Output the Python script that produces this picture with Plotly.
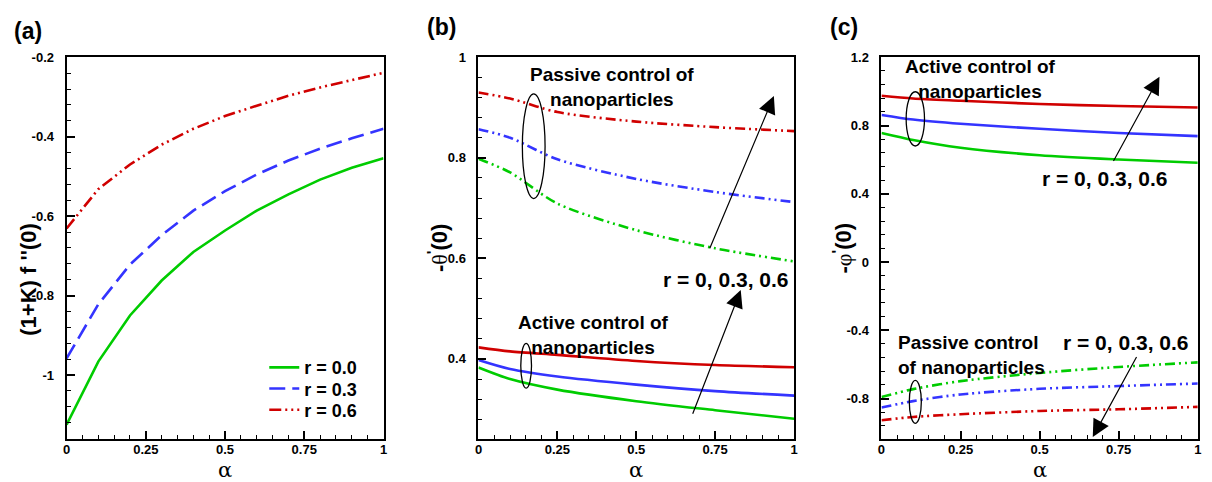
import plotly.graph_objects as go

# ---------------- data ----------------
alpha_a = [0.0, 0.1, 0.2, 0.3, 0.4, 0.5, 0.6, 0.7, 0.8, 0.9, 1.0]
a_r00 = [-1.125, -0.966, -0.85, -0.762, -0.69, -0.636, -0.586, -0.545, -0.508, -0.478, -0.454]
a_r03 = [-0.958, -0.822, -0.722, -0.648, -0.586, -0.537, -0.495, -0.46, -0.43, -0.404, -0.38]
a_r06 = [-0.631, -0.532, -0.47, -0.42, -0.38, -0.348, -0.322, -0.297, -0.276, -0.257, -0.239]

alpha_bc = [0.0, 0.1, 0.25, 0.5, 0.75, 1.0]
# panel (b): -theta'(0)
b_act_r00 = [0.383, 0.360, 0.339, 0.316, 0.298, 0.281]
b_act_r03 = [0.398, 0.380, 0.365, 0.349, 0.336, 0.327]
b_act_r06 = [0.423, 0.415, 0.408, 0.396, 0.388, 0.3835]
b_pas_r00 = [0.798, 0.771, 0.709, 0.656, 0.620, 0.594]
b_pas_r03 = [0.857, 0.840, 0.797, 0.758, 0.732, 0.712]
b_pas_r06 = [0.930, 0.918, 0.891, 0.872, 0.861, 0.853]
# panel (c): -phi'(0)
c_act_r00 = [0.756, 0.715, 0.670, 0.626, 0.601, 0.582]
c_act_r03 = [0.862, 0.835, 0.810, 0.781, 0.756, 0.738]
c_act_r06 = [0.974, 0.958, 0.945, 0.926, 0.914, 0.906]
c_pas_r00 = [-0.791, -0.745, -0.698, -0.650, -0.615, -0.588]
c_pas_r03 = [-0.853, -0.815, -0.776, -0.743, -0.727, -0.712]
c_pas_r06 = [-0.927, -0.908, -0.892, -0.873, -0.863, -0.849]

legend_labels = ["r = 0.0", "r = 0.3", "r = 0.6"]
x_tickvals = [0, 0.25, 0.5, 0.75, 1]
x_ticktext = ["0", "0.25", "0.5", "0.75", "1"]
a_tickvals = [-1, -0.8, -0.6, -0.4, -0.2]
a_ticktext = ["-1", "-0.8", "-0.6", "-0.4", "-0.2"]
b_tickvals = [0.4, 0.6, 0.8, 1]
b_ticktext = ["0.4", "0.6", "0.8", "1"]
c_tickvals = [-0.8, -0.4, 0, 0.4, 0.8, 1.2]
c_ticktext = ["-0.8", "-0.4", "0", "0.4", "0.8", "1.2"]

GREEN = "#00cc00"
BLUE = "#3434ff"
RED = "#d00000"
FONT = "Liberation Sans"
DDOT = "10px,4px,2px,4px,2px,4px"

fig = go.Figure()

def add(x, y, color, dash, xa, ya, name=None, legend=None, shape="spline"):
    fig.add_trace(go.Scatter(x=x, y=y, mode="lines", name=name, showlegend=legend is not None,
                             legend=legend if legend else "legend",
                             line=dict(color=color, width=2.6, dash=dash, shape=shape, smoothing=0.8),
                             xaxis=xa, yaxis=ya))

add(alpha_a, a_r00, GREEN, "solid", "x", "y", legend_labels[0], "legend", "linear")
add(alpha_a, a_r03, BLUE, "16px,7px", "x", "y", legend_labels[1], "legend2", "linear")
add(alpha_a, a_r06, RED, "12px,4px,2px,4px,2px,4px", "x", "y", legend_labels[2], "legend3", "linear")

add(alpha_bc, b_pas_r06, RED, DDOT, "x2", "y2")
add(alpha_bc, b_pas_r03, BLUE, DDOT, "x2", "y2")
add(alpha_bc, b_pas_r00, GREEN, DDOT, "x2", "y2")
add(alpha_bc, b_act_r06, RED, "solid", "x2", "y2")
add(alpha_bc, b_act_r03, BLUE, "solid", "x2", "y2")
add(alpha_bc, b_act_r00, GREEN, "solid", "x2", "y2")

add(alpha_bc, c_act_r06, RED, "solid", "x3", "y3")
add(alpha_bc, c_act_r03, BLUE, "solid", "x3", "y3")
add(alpha_bc, c_act_r00, GREEN, "solid", "x3", "y3")
add(alpha_bc, c_pas_r00, GREEN, DDOT, "x3", "y3")
add(alpha_bc, c_pas_r03, BLUE, DDOT, "x3", "y3")
add(alpha_bc, c_pas_r06, RED, DDOT, "x3", "y3")

tickfont = dict(family=FONT, size=13, color="black", weight="bold")

def xaxis(domain, anchor):
    return dict(domain=domain, anchor=anchor, range=[0, 1], tickmode="array",
                tickvals=x_tickvals, ticktext=x_ticktext, ticks="inside", ticklen=8,
                tickwidth=1.5, tickcolor="black", showline=True, linecolor="black",
                linewidth=2, mirror=True, showgrid=False, zeroline=False,
                tickfont=tickfont, ticklabelstandoff=-2,
                minor=dict(ticks="inside", ticklen=4, tickwidth=1, tickcolor="black",
                           dtick=0.05, tick0=0, showgrid=False))

def yaxis(domain, anchor, rng, tv, tt, mdt):
    return dict(domain=domain, anchor=anchor, range=rng, tickmode="array",
                tickvals=tv, ticktext=tt, ticks="inside", ticklen=8,
                tickwidth=1.5, tickcolor="black", showline=True, linecolor="black",
                linewidth=2, mirror=True, showgrid=False, zeroline=False,
                tickfont=tickfont, ticklabelstandoff=8,
                minor=dict(ticks="inside", ticklen=4, tickwidth=1, tickcolor="black",
                           dtick=mdt, tick0=0, showgrid=False))

def legend(ycenter_px):
    return dict(x=262 / 1212, y=1 - ycenter_px / 482, xanchor="left", yanchor="middle",
                font=dict(family=FONT, size=18, color="black", weight="bold"),
                bgcolor="rgba(0,0,0,0)", borderwidth=0)

ydom = [0.0913, 0.8942]
fig.update_layout(
    width=1212, height=482, margin=dict(l=0, r=0, t=0, b=0),
    paper_bgcolor="white", plot_bgcolor="white",
    xaxis=xaxis([0.052, 0.3152], "y"),
    yaxis=yaxis(ydom, "x", [-1.16, -0.2], a_tickvals, a_ticktext, 0.04),
    xaxis2=xaxis([0.3941, 0.6562], "y2"),
    yaxis2=yaxis(ydom, "x2", [0.2415, 1.0], b_tickvals, b_ticktext, 0.04),
    xaxis3=xaxis([0.7288, 0.9915], "y3"),
    yaxis3=yaxis(ydom, "x3", [-1.035, 1.2], c_tickvals, c_ticktext, 0.08),
    legend=legend(366), legend2=legend(387.5), legend3=legend(409),
    showlegend=True,
)

ann = []
bold = lambda s: dict(family=FONT, size=s, color="black", weight="bold")
C = dict(xanchor="center", yanchor="middle", showarrow=False)
# panel labels
ann.append(dict(text="(a)", x=24 / 1212, y=1 - 24 / 482, xref="paper", yref="paper", font=bold(23), **C))
ann.append(dict(text="(b)", x=440 / 1212, y=1 - 20 / 482, xref="paper", yref="paper", font=bold(23), **C))
ann.append(dict(text="(c)", x=846 / 1212, y=1 - 20 / 482, xref="paper", yref="paper", font=bold(23), **C))

alpha_font = dict(family="DejaVu Serif", size=21, color="black")
for xa, ya in [("x", "y"), ("x2", "y2"), ("x3", "y3")]:
    ann.append(dict(text="α", x=0.5, y=-0.082, xref=xa + " domain", yref=ya + " domain",
                    font=alpha_font, **C))

sym = '<span style="font-family:Liberation Serif;font-weight:normal">%s</span>'
ann.append(dict(text="(1+K) f ''(0)", x=-0.119, y=0.419, xref="x domain", yref="y domain",
                textangle=-90, font=bold(22), **C))
ann.append(dict(text="-" + sym % "θ" + "<sup>'</sup>(0)", x=-0.129, y=0.499, xref="x2 domain", yref="y2 domain",
                textangle=-90, font=bold(22), **C))
ann.append(dict(text="-" + sym % "φ" + "<sup>'</sup>(0)", x=-0.126, y=0.5, xref="x3 domain", yref="y3 domain",
                textangle=-90, font=bold(22), **C))

# panel (b) text
ann.append(dict(text="Passive control of<br>nanoparticles", x=0.422, y=0.941, xref="x2", yref="y2",
                font=bold(19), **C))
ann.append(dict(text="Active control of<br>nanoparticles", x=0.363, y=0.448, xref="x2", yref="y2",
                font=bold(19), **C))
ann.append(dict(text="r = 0, 0.3, 0.6", x=0.785, y=0.558, xref="x2", yref="y2",
                font=bold(21), **C))
# panel (c) text
ann.append(dict(text="Active control of<br>nanoparticles", x=0.312, y=1.071, xref="x3", yref="y3",
                font=bold(19), **C))
ann.append(dict(text="r = 0, 0.3, 0.6", x=0.706, y=0.491, xref="x3", yref="y3",
                font=bold(21), **C))
ann.append(dict(text="Passive control<br>of nanoparticles", x=0.047, y=-0.543, xref="x3", yref="y3",
                xanchor="left", yanchor="middle", align="left", showarrow=False, font=bold(19)))
ann.append(dict(text="r = 0, 0.3, 0.6", x=0.773, y=-0.47, xref="x3", yref="y3",
                font=bold(21), **C))

# arrows
arrows = [
    ("x2", "y2", 0.731, 0.617, 0.936, 0.923),
    ("x2", "y2", 0.677, 0.288, 0.831, 0.537),
    ("x3", "y3", 0.731, 0.583, 0.879, 1.086),
    ("x3", "y3", 0.809, -0.548, 0.668, -1.026),
]
for xa, ya, x0, y0, x1, y1 in arrows:
    ann.append(dict(text="", x=x1, y=y1, ax=x0, ay=y0, xref=xa, yref=ya, axref=xa, ayref=ya,
                    showarrow=True, arrowhead=2, arrowsize=2.9, arrowwidth=1.2, arrowcolor="black",
                    standoff=0))
fig.update_layout(annotations=ann)

# ellipses
ellipses = [
    ("x2", "y2", 0.139, 0.719, 0.211, 0.927),
    ("x2", "y2", 0.134, 0.342, 0.168, 0.431),
    ("x3", "y3", 0.078, 0.680, 0.136, 0.998),
    ("x3", "y3", 0.088, -0.945, 0.126, -0.694),
]
for xa, ya, x0, y0, x1, y1 in ellipses:
    fig.add_shape(type="circle", xref=xa, yref=ya, x0=x0, y0=y0, x1=x1, y1=y1,
                  line=dict(color="black", width=1.3))

fig.write_html("out.html")
